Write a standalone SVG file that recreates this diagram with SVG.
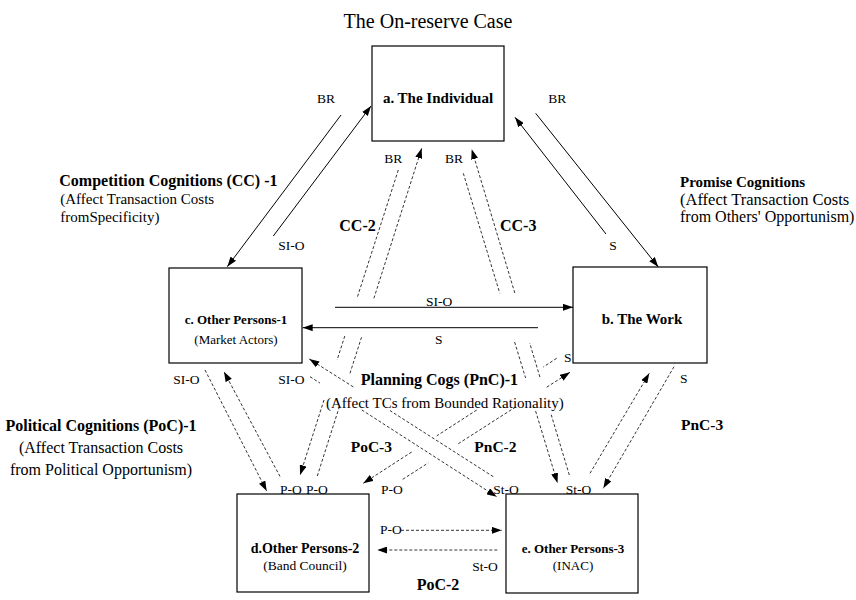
<svg xmlns="http://www.w3.org/2000/svg" width="856" height="600" viewBox="0 0 856 600">
<defs>
<style>
text{font-family:"Liberation Serif","Times New Roman",serif;fill:#000}
.box{fill:#fff;stroke:#000;stroke-width:1.2}
.b{font-weight:bold}
.sol{fill:none;stroke:#000;stroke-width:1}
.dsh{fill:none;stroke:#000;stroke-width:0.8;stroke-dasharray:3 2}
.el{font-size:13.5px}
.m{text-anchor:middle}
</style>
<marker id="ah" markerWidth="10" markerHeight="7" refX="10" refY="3.5" orient="auto" markerUnits="userSpaceOnUse">
<path d="M0,0 L10,3.5 L0,7 z" fill="#000"/>
</marker>
</defs>
<rect width="856" height="600" fill="#fff"/>
<text x="428" y="28" class="m" font-size="20">The On-reserve Case</text>

<g id="node-a"><rect class="box" x="372" y="46" width="132" height="95"/><text x="438" y="103" class="m b" font-size="15">a. The Individual</text></g>
<g id="node-b"><rect class="box" x="573" y="267" width="134" height="96"/><text x="642" y="324" class="m b" font-size="15">b. The Work</text></g>
<g id="node-c"><rect class="box" x="169" y="268" width="133" height="95"/><text x="236" y="324" class="m b" font-size="13">c. Other Persons-1</text><text x="236" y="344" class="m" font-size="13">(Market Actors)</text></g>
<g id="node-d"><rect class="box" x="237" y="494" width="132" height="98"/><text x="305" y="553" class="m b" font-size="14">d.Other Persons-2</text><text x="305" y="570" class="m" font-size="13.5">(Band Council)</text></g>
<g id="node-e"><rect class="box" x="506" y="494" width="132" height="99"/><text x="573" y="553" class="m b" font-size="13">e. Other Persons-3</text><text x="573" y="570" class="m" font-size="13">(INAC)</text></g>

<g id="connectors">
<path class="sol" d="M341,115 L227.3,266.7" marker-end="url(#ah)"/>
<path class="sol" d="M273.3,236 L371,106" marker-end="url(#ah)"/>
<path class="sol" d="M606,234 L515,117.3" marker-end="url(#ah)"/>
<path class="sol" d="M535.7,113.3 L658.3,267" marker-end="url(#ah)"/>
<path class="sol" d="M335,307.3 L573,307.3" marker-end="url(#ah)"/>
<path class="sol" d="M538,327.7 L302.7,327.7" marker-end="url(#ah)"/>

<path class="dsh" d="M398.3,170 L357.1,298 M344.8,336 L337.1,360 M324,400 L300.1,475" marker-end="url(#ah)"/>
<path class="dsh" d="M317.3,476 L339.9,405 M350,373.3 L361.5,337.3 M373.9,298.3 L421.7,148.3" marker-end="url(#ah)"/>
<path class="dsh" d="M463.3,173.3 L499.8,293.3 M514.6,342 L525.6,378 M535.6,411 L557.5,483" marker-end="url(#ah)"/>
<path class="dsh" d="M569.3,475 L550.7,413 M539.9,377 L529.7,343 M514.8,293 L471.7,149.3" marker-end="url(#ah)"/>

<path class="dsh" d="M674,366.7 L603.3,488.3" marker-end="url(#ah)"/>
<path class="dsh" d="M590,473.3 L649.3,373.3" marker-end="url(#ah)"/>
<path class="dsh" d="M205,370 L266.7,491" marker-end="url(#ah)"/>
<path class="dsh" d="M280,476.5 L224,371.7" marker-end="url(#ah)"/>

<path class="dsh" d="M493.3,476.7 L390,410.6 M353.3,386.9 L309.3,359" marker-end="url(#ah)"/>
<path class="dsh" d="M310,376.7 L320,383.1 M361.7,409.9 L496.7,496.7" marker-end="url(#ah)"/>
<path class="dsh" d="M556.7,358.3 L543.3,367 M476.7,410 L436.7,435.9 M411.7,452 L363.3,483.3" marker-end="url(#ah)"/>
<path class="dsh" d="M402.7,479.3 L428.3,462.9 M458.3,443.7 L515,407.4 M546.7,387.2 L570,372.3" marker-end="url(#ah)"/>

<path class="dsh" d="M401,530.3 L501.7,530.3" marker-end="url(#ah)"/>
<path class="dsh" d="M497.3,550 L377.3,550" marker-end="url(#ah)"/>
</g>

<g id="edge-labels" class="el">
<text x="317" y="103">BR</text>
<text x="548.3" y="103">BR</text>
<text x="278.3" y="250">SI-O</text>
<text x="609.3" y="250">S</text>
<text x="384.3" y="163">BR</text>
<text x="445" y="163">BR</text>
<text x="426" y="306">SI-O</text>
<text x="435" y="344">S</text>
<text x="564" y="362">S</text>
<text x="680" y="383">S</text>
<text x="173.3" y="384">SI-O</text>
<text x="278.3" y="384">SI-O</text>
<text x="280" y="494">P-O</text>
<text x="306" y="494">P-O</text>
<text x="381" y="494">P-O</text>
<text x="493.3" y="494">St-O</text>
<text x="565.7" y="494">St-O</text>
<text x="380" y="534">P-O</text>
<text x="472.3" y="571">St-O</text>
</g>

<g id="group-labels">
<text x="339.3" y="231" class="b" font-size="16">CC-2</text>
<text x="500" y="231" class="b" font-size="16">CC-3</text>
<text x="350.7" y="452" class="b" font-size="15.5">PoC-3</text>
<text x="474.3" y="452" class="b" font-size="15.5">PnC-2</text>
<text x="681" y="430" class="b" font-size="15.5">PnC-3</text>
<text x="438" y="590" class="m b" font-size="16">PoC-2</text>

<text x="59.3" y="186" class="b" font-size="16">Competition Cognitions (CC) -1</text>
<text x="60.3" y="203.5" font-size="15">(Affect Transaction Costs</text>
<text x="60.3" y="221.5" font-size="15">fromSpecificity)</text>

<text x="680" y="187" class="b" font-size="15">Promise Cognitions</text>
<text x="680" y="204.5" font-size="16.5">(Affect Transaction Costs</text>
<text x="680" y="222" font-size="16">from Others' Opportunism)</text>

<text x="101" y="430.5" class="m b" font-size="16">Political Cognitions (PoC)-1</text>
<text x="101" y="452.5" class="m" font-size="16">(Affect Transaction Costs</text>
<text x="101" y="475" class="m" font-size="16">from Political Opportunism)</text>

<text x="360.7" y="385" class="b" font-size="16">Planning Cogs (PnC)-1</text>
<text x="326" y="408" font-size="15">(Affect TCs from Bounded Rationality)</text>
</g>
</svg>
